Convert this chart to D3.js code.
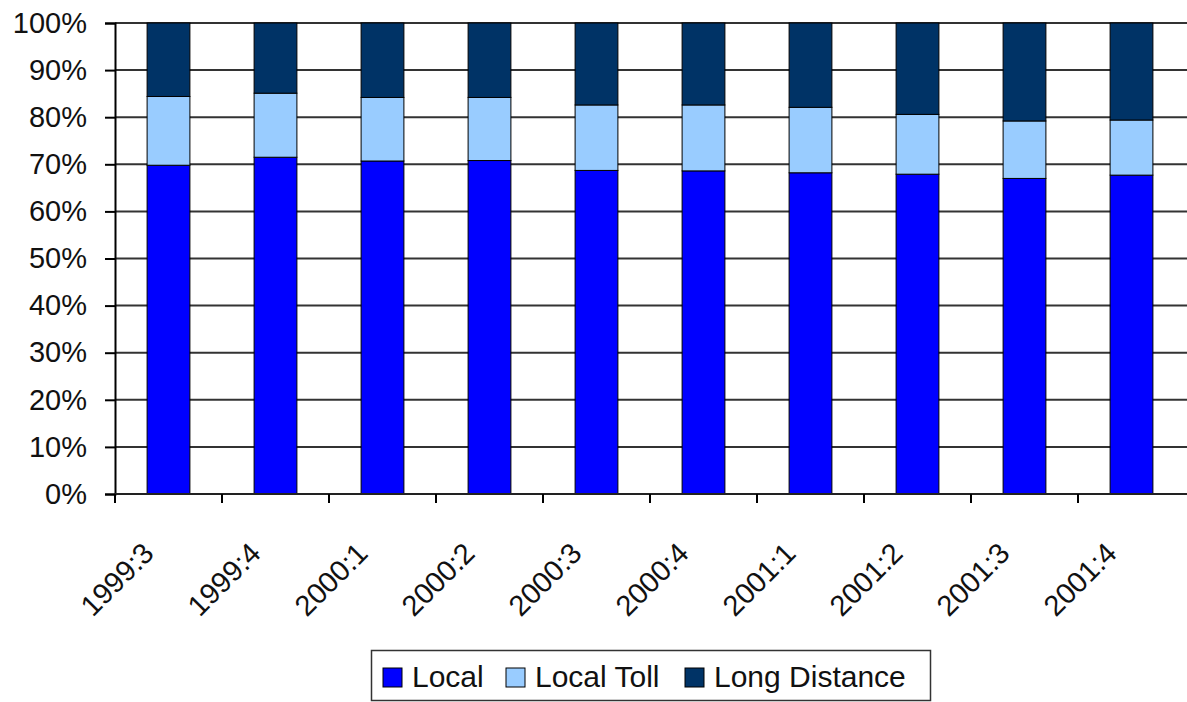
<!DOCTYPE html>
<html lang="en">
<head>
    <meta charset="UTF-8">
    <title>Local / Local Toll / Long Distance share</title>
    <script src="https://d3js.org/d3.v7.min.js"></script>
    <style>
        body, html {
            margin: 0;
            background-color: #fff;
            font-family: 'Liberation Sans', Arial, sans-serif;
        }
        text { fill: #111; }
    </style>
</head>
<body>
<svg id="chart"></svg>

<script>
    // values, percent of total
    const quarters = ["1999:3", "1999:4", "2000:1", "2000:2", "2000:3", "2000:4", "2001:1", "2001:2", "2001:3", "2001:4"];
    const local = [69.8, 71.5, 70.7, 70.8, 68.7, 68.6, 68.2, 67.9, 67.0, 67.7];
    const localToll = [14.6, 13.6, 13.5, 13.4, 13.9, 14.0, 13.9, 12.7, 12.2, 11.7];
    const longDistance = [15.6, 14.9, 15.8, 15.8, 17.4, 17.4, 17.9, 19.4, 20.8, 20.6];
    const seriesNames = ["Local", "Local Toll", "Long Distance"];
    const yTicks = [0, 0.1, 0.2, 0.3, 0.4, 0.5, 0.6, 0.7, 0.8, 0.9, 1];

    const W = 1187, H = 702;
    const plot = { left: 115, right: 1185, top: 23, bottom: 494 };

    const svg = d3.select("#chart").attr("width", W).attr("height", H);

    const rows = quarters.map((q, i) => ({
        quarter: q,
        "Local": local[i],
        "Local Toll": localToll[i],
        "Long Distance": longDistance[i]
    }));

    const stacked = d3.stack().keys(seriesNames).offset(d3.stackOffsetExpand)(rows);

    const x = d3.scaleBand().domain(quarters).range([plot.left, plot.right])
        .paddingInner(0.6).paddingOuter(0.3);
    const y = d3.scaleLinear().domain([0, 1]).range([plot.bottom, plot.top]);
    const color = d3.scaleOrdinal().domain(seriesNames).range(["#0000ff", "#99ccff", "#003366"]);

    // gridlines
    svg.append("g").selectAll("line")
        .data(yTicks)
        .join("line")
        .attr("x1", plot.left).attr("x2", W)
        .attr("y1", d => y(d)).attr("y2", d => y(d))
        .attr("stroke", "#333").attr("stroke-width", 2);

    // bars
    svg.append("g").selectAll("g")
        .data(stacked)
        .join("g")
        .attr("fill", d => color(d.key))
        .selectAll("rect")
        .data(d => d)
        .join("rect")
        .attr("x", d => x(d.data.quarter))
        .attr("width", x.bandwidth())
        .attr("y", d => y(d[1]))
        .attr("height", d => y(d[0]) - y(d[1]))
        .attr("stroke", "#000")
        .attr("stroke-width", 1);

    // y axis
    const yAxis = svg.append("g")
        .attr("transform", `translate(${plot.left},0)`)
        .call(d3.axisLeft(y).tickValues(yTicks).tickFormat(d3.format(".0%")).tickSize(10).tickPadding(18));
    yAxis.select(".domain").attr("stroke", "#000").attr("stroke-width", 2);
    yAxis.selectAll(".tick line").attr("stroke", "#000").attr("stroke-width", 2);
    yAxis.selectAll("text")
        .attr("font-size", 29)
        .attr("font-family", "'Liberation Sans', Arial, sans-serif")
        .attr("fill", "#111");

    // x axis: line plus ticks at category boundaries
    const half = x.step() * x.paddingInner() / 2;
    svg.append("line")
        .attr("x1", plot.left).attr("x2", W)
        .attr("y1", y(0)).attr("y2", y(0))
        .attr("stroke", "#222").attr("stroke-width", 2);
    svg.append("g").selectAll("line")
        .data(quarters)
        .join("line")
        .attr("x1", d => x(d) - half).attr("x2", d => x(d) - half)
        .attr("y1", y(0)).attr("y2", y(0) + 9)
        .attr("stroke", "#000").attr("stroke-width", 2);

    svg.append("g").selectAll("text")
        .data(quarters)
        .join("text")
        .attr("transform", d => `translate(${x(d) + x.bandwidth() / 2 - 13},${y(0) + 61}) rotate(-45)`)
        .attr("text-anchor", "end")
        .attr("font-size", 29)
        .text(d => d);

    // legend
    const legend = svg.append("g");
    legend.append("rect")
        .attr("x", 371.5).attr("y", 650.5)
        .attr("width", 559).attr("height", 50)
        .attr("fill", "#fff").attr("stroke", "#333").attr("stroke-width", 1.5);

    const legendX = [383, 506, 685];
    const items = legend.selectAll("g")
        .data(seriesNames)
        .join("g")
        .attr("transform", (d, i) => `translate(${legendX[i]},668)`);
    items.append("rect")
        .attr("width", 19).attr("height", 19)
        .attr("fill", d => color(d))
        .attr("stroke", "#000").attr("stroke-width", 1);
    items.append("text")
        .attr("x", 29).attr("y", 19)
        .attr("font-size", 30)
        .text(d => d);
</script>
</body>
</html>
